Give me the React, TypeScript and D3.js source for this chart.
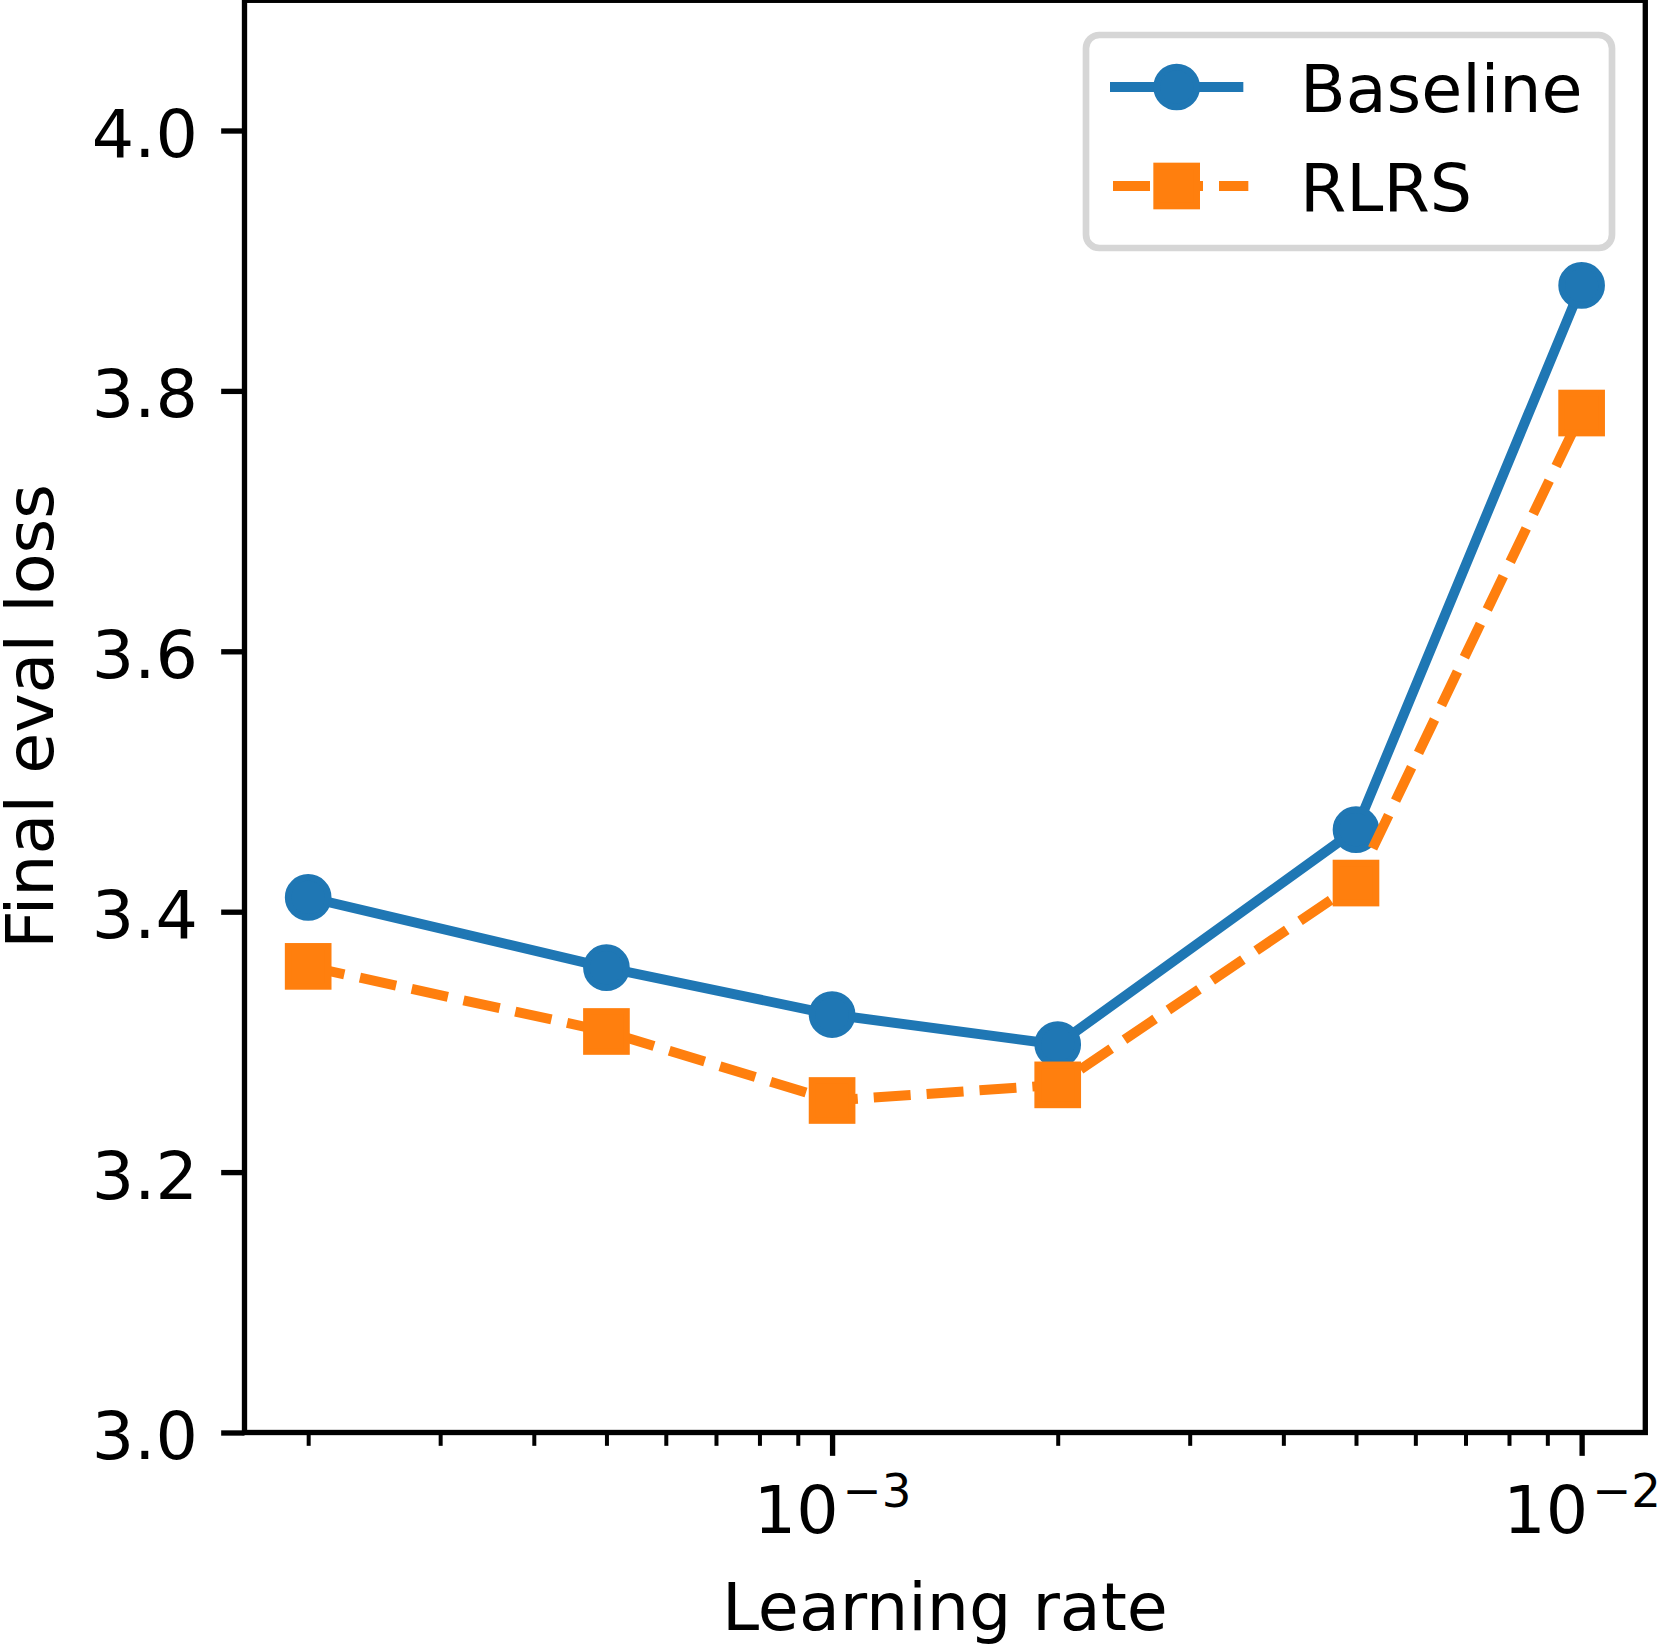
import * as d3 from 'd3';
import * as React from 'react';

const { useRef, useEffect } = React;

const width = 1662;
const height = 1645;
// figure was saved at 480 dpi, so 1pt = 480/72 px
const pt = 480 / 72;
const fontSize = 10 * pt;
const font = '"DejaVu Sans", sans-serif';

// plot area edges in px
const plot = { left: 244.5, right: 1645.3, top: 0.3, bottom: 1432.5 };

const learningRates = [2e-4, 5e-4, 1e-3, 2e-3, 5e-3, 1e-2];
const baselineLoss = [3.411, 3.357, 3.321, 3.298, 3.463, 3.881];
const rlrsLoss = [3.358, 3.308, 3.255, 3.267, 3.422, 3.783];

const yDomain: [number, number] = [3.0, 4.1];
const yTicks = [3.0, 3.2, 3.4, 3.6, 3.8, 4.0];
const xMajorTicks = [1e-3, 1e-2];
const xMinorTicks = [
  2e-4, 3e-4, 4e-4, 5e-4, 6e-4, 7e-4, 8e-4, 9e-4,
  2e-3, 3e-3, 4e-3, 5e-3, 6e-3, 7e-3, 8e-3, 9e-3,
];

const xLabel = 'Learning rate';
const yLabel = 'Final eval loss';

type Series = {
  name: string;
  values: number[];
  color: string;
  marker: 'circle' | 'square';
  dash: string | null;
};

const series: Series[] = [
  { name: 'Baseline', values: baselineLoss, color: '#1f77b4', marker: 'circle', dash: null },
  { name: 'RLRS', values: rlrsLoss, color: '#ff7f0e', marker: 'square', dash: `${3.7 * 1.5 * pt},${1.6 * 1.5 * pt}` },
];

export default () => {
  const rootRef = useRef<HTMLDivElement>(null);

  useEffect(() => {
    const rootEl = rootRef.current;
    if (!rootEl) {
      return;
    }
    d3.select(rootEl).selectAll('*').remove();

    // matplotlib-style 5% margins in log space
    const lo = Math.log10(d3.min(learningRates) as number);
    const hi = Math.log10(d3.max(learningRates) as number);
    const pad = (hi - lo) * 0.05;

    const x = d3
      .scaleLog()
      .domain([10 ** (lo - pad), 10 ** (hi + pad)])
      .range([plot.left, plot.right]);

    const y = d3.scaleLinear().domain(yDomain).range([plot.bottom, plot.top]);

    const svg = d3
      .select(rootEl)
      .append('svg')
      .attr('width', width)
      .attr('height', height)
      .attr('viewBox', `0,0,${width},${height}`)
      .style('position', 'absolute')
      .style('left', '0px')
      .style('top', '0px')
      .style('background', '#fff');

    const line = d3
      .line<number>()
      .x((d, i) => x(learningRates[i]))
      .y(d => y(d));

    const markerSize = 6 * pt;
    const edge = 1 * pt;

    series.forEach(s => {
      const g = svg.append('g');
      g.append('path')
        .attr('d', line(s.values))
        .attr('fill', 'none')
        .attr('stroke', s.color)
        .attr('stroke-width', 1.5 * pt)
        .attr('stroke-linejoin', 'round')
        .attr('stroke-linecap', s.dash ? 'butt' : 'square')
        .attr('stroke-dasharray', s.dash);

      if (s.marker === 'circle') {
        g.selectAll('circle')
          .data(s.values)
          .join('circle')
          .attr('cx', (d, i) => x(learningRates[i]))
          .attr('cy', d => y(d))
          .attr('r', markerSize / 2)
          .attr('fill', s.color)
          .attr('stroke', s.color)
          .attr('stroke-width', edge);
      } else {
        g.selectAll('rect')
          .data(s.values)
          .join('rect')
          .attr('x', (d, i) => x(learningRates[i]) - markerSize / 2)
          .attr('y', d => y(d) - markerSize / 2)
          .attr('width', markerSize)
          .attr('height', markerSize)
          .attr('fill', s.color)
          .attr('stroke', s.color)
          .attr('stroke-width', edge);
      }
    });

    // y axis
    svg
      .append('g')
      .attr('transform', `translate(${plot.left},0)`)
      .call(
        d3
          .axisLeft(y)
          .tickValues(yTicks)
          .tickFormat(d3.format('.1f'))
          .tickSize(3.5 * pt)
          .tickPadding(3.5 * pt)
          .tickSizeOuter(0),
      )
      .attr('font-size', fontSize)
      .attr('font-family', font)
      .call(g => g.select('.domain').remove())
      .call(g => g.selectAll('.tick line').attr('stroke', '#000').attr('stroke-width', 0.8 * pt))
      .call(g => g.selectAll('.tick text').attr('fill', '#000').attr('dy', '0.39em'));

    // x axis, minor ticks
    svg
      .append('g')
      .attr('transform', `translate(0,${plot.bottom})`)
      .call(
        d3
          .axisBottom(x)
          .tickValues(xMinorTicks)
          .tickFormat(() => '')
          .tickSize(2 * pt)
          .tickSizeOuter(0),
      )
      .call(g => g.select('.domain').remove())
      .call(g => g.selectAll('.tick line').attr('stroke', '#000').attr('stroke-width', 0.6 * pt));

    // x axis, major ticks with 10^n labels
    svg
      .append('g')
      .attr('transform', `translate(0,${plot.bottom})`)
      .call(
        d3
          .axisBottom(x)
          .tickValues(xMajorTicks)
          .tickFormat(() => '')
          .tickSize(3.5 * pt)
          .tickSizeOuter(0),
      )
      .attr('font-size', fontSize)
      .attr('font-family', font)
      .call(g => g.select('.domain').remove())
      .call(g => g.selectAll('.tick line').attr('stroke', '#000').attr('stroke-width', 0.8 * pt))
      .call(g =>
        g
          .selectAll<SVGTextElement, number>('.tick text')
          .attr('fill', '#000')
          .attr('y', 100)
          .attr('dy', null)
          .each(function (d) {
            const t = d3.select(this);
            const exp = Math.round(Math.log10(d));
            t.append('tspan').text('10');
            t.append('tspan')
              .attr('font-size', fontSize * 0.7)
              .attr('dx', 4)
              .attr('dy', -26)
              .text(String(exp).replace('-', '\u2212'));
          }),
      );

    // spines
    svg
      .append('rect')
      .attr('x', plot.left)
      .attr('y', plot.top)
      .attr('width', plot.right - plot.left)
      .attr('height', plot.bottom - plot.top)
      .attr('fill', 'none')
      .attr('stroke', '#000')
      .attr('stroke-width', 0.8 * pt);

    // axis labels
    svg
      .append('text')
      .attr('x', (plot.left + plot.right) / 2)
      .attr('y', 1630)
      .attr('text-anchor', 'middle')
      .attr('font-size', fontSize)
      .attr('font-family', font)
      .text(xLabel);

    svg
      .append('text')
      .attr('transform', `translate(53,${(plot.top + plot.bottom) / 2}) rotate(-90)`)
      .attr('text-anchor', 'middle')
      .attr('font-size', fontSize)
      .attr('font-family', font)
      .text(yLabel);

    // legend
    const legend = svg.append('g');
    legend
      .append('rect')
      .attr('x', 1086)
      .attr('y', 35)
      .attr('width', 526)
      .attr('height', 213)
      .attr('rx', 0.2 * fontSize)
      .attr('fill', '#fff')
      .attr('fill-opacity', 0.8)
      .attr('stroke', '#cccccc')
      .attr('stroke-opacity', 0.8)
      .attr('stroke-width', 1 * pt);

    const rowY = [87, 186];
    const handleX0 = 1110;
    const handleLen = 2 * fontSize;
    series.forEach((s, i) => {
      const cy = rowY[i];
      const cx = handleX0 + handleLen / 2;
      legend
        .append('line')
        .attr('x1', s.dash ? handleX0 + 3 : handleX0)
        .attr('x2', s.dash ? handleX0 + handleLen + 5 : handleX0 + handleLen)
        .attr('y1', cy)
        .attr('y2', cy)
        .attr('stroke', s.color)
        .attr('stroke-width', 1.5 * pt)
        .attr('stroke-dasharray', s.dash);
      if (s.marker === 'circle') {
        legend
          .append('circle')
          .attr('cx', cx)
          .attr('cy', cy)
          .attr('r', markerSize / 2)
          .attr('fill', s.color)
          .attr('stroke', s.color)
          .attr('stroke-width', edge);
      } else {
        legend
          .append('rect')
          .attr('x', cx - markerSize / 2)
          .attr('y', cy - markerSize / 2)
          .attr('width', markerSize)
          .attr('height', markerSize)
          .attr('fill', s.color)
          .attr('stroke', s.color)
          .attr('stroke-width', edge);
      }
      legend
        .append('text')
        .attr('x', 1300)
        .attr('y', cy + 25)
        .attr('font-size', fontSize)
        .attr('font-family', font)
        .text(s.name);
    });
  }, []);

  return <div ref={rootRef} />;
};
